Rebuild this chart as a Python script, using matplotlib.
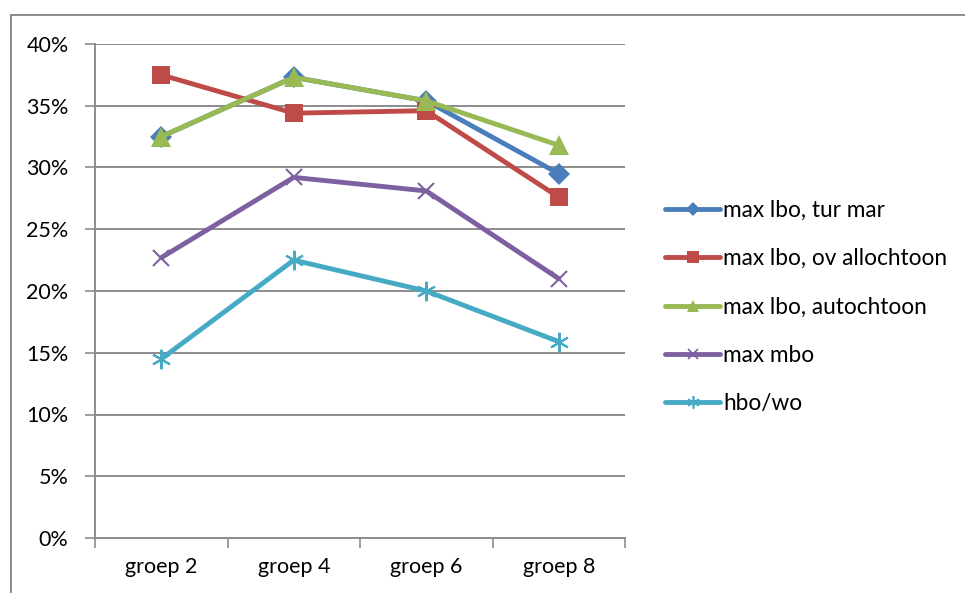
import matplotlib
matplotlib.use("Agg")
import matplotlib.pyplot as plt
from matplotlib.lines import Line2D
from matplotlib.patches import Rectangle
from matplotlib.ticker import FuncFormatter, FixedLocator

plt.rcParams['font.family'] = ['Lato', 'DejaVu Sans']

categories = ["groep 2", "groep 4", "groep 6", "groep 8"]
tur_mar = [32.5, 37.3, 35.4, 29.5]
ov_allochtoon = [37.5, 34.4, 34.6, 27.6]
autochtoon = [32.5, 37.3, 35.4, 31.8]
max_mbo = [22.7, 29.2, 28.1, 21.0]
hbo_wo = [14.5, 22.5, 20.0, 15.9]

series = [
    ("max lbo, tur mar", tur_mar, "#4a7ebb", "D", 11),
    ("max lbo, ov allochtoon", ov_allochtoon, "#be4b48", "s", 13),
    ("max lbo, autochtoon", autochtoon, "#98b954", "^", 14),
    ("max mbo", max_mbo, "#7d60a0", "x", 12),
    ("hbo/wo", hbo_wo, "#46aac5", (6, 2, 0), 14),
]

fs_tick = 15.5
fs_leg = 16.3

fig = plt.figure(figsize=(9.65, 5.93), dpi=100)
ax = fig.add_axes([95/965, 1-538/593, (625-95)/965, (538-44)/593])

x = list(range(len(categories)))
handles = []
for name, vals, col, mk, ms in series:
    mew = 1.5 if mk in ("x", (6, 2, 0)) else 0
    ax.plot(x, vals, color=col, lw=3.5, marker=mk, markersize=ms,
            markerfacecolor=col, markeredgecolor=col, markeredgewidth=mew,
            solid_capstyle='round', zorder=3)
    handles.append(Line2D([0], [0], color=col, lw=3.5, marker=mk,
                          markersize=ms*0.65, markerfacecolor=col,
                          markeredgecolor=col, markeredgewidth=mew*0.8,
                          solid_capstyle='round'))

ax.set_xlim(-0.5, 3.5)
ax.set_ylim(0, 40)
ax.set_yticks(range(0, 41, 5))
ax.yaxis.set_major_formatter(FuncFormatter(lambda v, p: f"{int(v)}%"))
ax.grid(axis='y', color='#8c8c8c', lw=1.4)
ax.set_axisbelow(True)
ax.set_xticks(x)
ax.set_xticklabels(categories)
ax.xaxis.set_minor_locator(FixedLocator([-0.5, 0.5, 1.5, 2.5, 3.5]))
ax.tick_params(axis='x', which='major', length=0, pad=14, labelsize=fs_tick)
ax.tick_params(axis='x', which='minor', length=7, width=1.2, color='#8c8c8c', direction='out')
ax.tick_params(axis='y', length=7, width=1.2, color='#8c8c8c', direction='out', pad=12, labelsize=fs_tick)
for s in ('top', 'right'):
    ax.spines[s].set_visible(False)
for s in ('left', 'bottom'):
    ax.spines[s].set_color('#8c8c8c')
    ax.spines[s].set_linewidth(1.4)

fig.legend(handles, [s[0] for s in series], loc='center left',
           bbox_to_anchor=(665/965, 1-307/593), frameon=False,
           fontsize=fs_leg, handlelength=2.45, handletextpad=0.12,
           labelspacing=1.2, borderaxespad=0, borderpad=0)

fig.patches.append(Rectangle((11/965, -0.2), 2, 1-15/593+0.2,
                             transform=fig.transFigure, fill=False,
                             edgecolor='#8c8c8c', lw=1.4))

fig.savefig("out.png", dpi=100)
